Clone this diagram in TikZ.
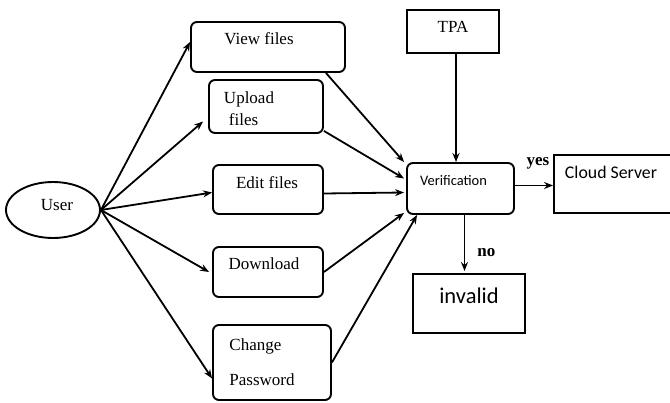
\documentclass[tikz,border=0pt]{standalone}
\usepackage{fontspec}
\setmainfont{Liberation Serif}
\newfontfamily\calibri{Carlito}
\usetikzlibrary{positioning,arrows.meta,shapes.geometric}
\tikzset{
rbox/.style={draw, line width=1.9pt, rounded corners=6pt, inner sep=0pt},
sbox/.style={draw, line width=1.9pt, inner sep=0pt},
txt/.style={font=\fontsize{17}{20}\selectfont, align=left, inner sep=0pt},
stxt/.style={font=\calibri\fontsize{#1}{#1}\selectfont, inner sep=0pt},
link/.style={->, line width=1.8pt}
}

\begin{document}
\begin{tikzpicture}[x=1pt,y=-1pt,>={Stealth[length=9pt,width=7pt]}]
\useasboundingbox (0,0) rectangle (670,403);

\node[draw, ellipse, line width=1.9pt, minimum width=94pt, minimum height=56pt, inner sep=0pt,
  label={[txt,xshift=4pt,yshift=5pt]center:User}] (user) at (53,210) {};

\node[rbox, minimum width=154pt, minimum height=50pt,
  label={[txt,xshift=-9pt,yshift=8pt]center:View files}] (view) at (268,47) {};
\node[rbox, minimum width=114pt, minimum height=53pt,
  label={[txt,xshift=-17pt,yshift=-2.5pt]center:Upload\\[2pt]\hspace{5pt}files}] (upload) at (266,106.5) {};
\node[rbox, minimum width=110pt, minimum height=49pt,
  label={[txt,xshift=-1pt,yshift=6.5pt]center:Edit files}] (edit) at (268,189.5) {};
\node[rbox, minimum width=110pt, minimum height=50pt,
  label={[txt,xshift=-4pt,yshift=8pt]center:Download}] (download) at (268,272) {};
\node[rbox, minimum width=118pt, minimum height=75pt,
  label={[txt,xshift=-10pt]center:Change\\[15pt]Password}] (change) at (272,362.5) {};

\node[rbox, minimum width=107pt, minimum height=51pt,
  label={[stxt=14.5,xshift=-7pt,yshift=8pt]center:Verification}] (verif) at (460.5,188.5) {};
\node[sbox, minimum width=92pt, minimum height=43pt,
  label={[txt,yshift=5pt]center:TPA}] (tpa) at (453,31.5) {};
\node[sbox, minimum width=120pt, minimum height=58pt,
  label={[stxt=17.8,xshift=-3pt,yshift=12pt]center:Cloud Server}] (cloud) at (614,184) {};
\node[sbox, minimum width=112pt, minimum height=59pt,
  label={[stxt=22.5,yshift=8pt]center:invalid}] (invalid) at (469,303.5) {};

\draw[link] (user.east) -- ([yshift=5pt]view.west);
\draw[link] (user.east) -- ([xshift=-5pt,yshift=-15pt]upload.west);
\draw[link] (user.east) -- ([yshift=-3pt]edit.west);
\draw[link] (user.east) -- ([xshift=-3pt]download.west);
\draw[link] (user.east) -- ([yshift=-16pt]change.west);

\draw[link] ([xshift=-20pt]view.south east) -- ([xshift=-2pt]verif.north west);
\draw[link] ([yshift=3pt]upload.south east) -- ([xshift=-2pt,yshift=10pt]verif.west);
\draw[link] ([yshift=-4pt]edit.east) -- ([xshift=-2pt,yshift=-4pt]verif.west);
\draw[link] (download.east) -- ([xshift=-2pt,yshift=2pt]verif.south west);
\draw[link] (change.east) -- ([xshift=11pt]verif.south west);

\draw[link] ([xshift=3pt]tpa.south) -- ([xshift=3pt]tpa.south |- verif.north);
\draw[link] ([yshift=3pt]verif.east) -- ([yshift=3pt]verif.east -| cloud.west)
  node[midway, above=15pt, xshift=4pt, font=\bfseries\fontsize{17}{20}\selectfont, inner sep=0pt] {yes};
\draw[link] ([xshift=4pt]verif.south) -- ([xshift=4pt,yshift=2pt]verif.south |- invalid.north)
  node[pos=0.62, right=12pt, yshift=-3pt, font=\bfseries\fontsize{17}{20}\selectfont, inner sep=0pt] {no};
\end{tikzpicture}
\end{document}
